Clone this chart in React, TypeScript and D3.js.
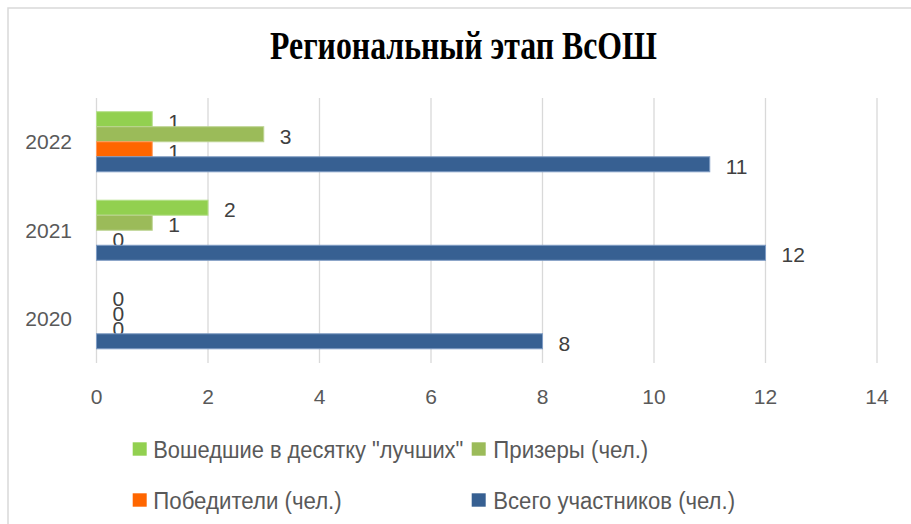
import React from "react";
import * as d3 from "d3";

const categories = ["2022", "2021", "2020"];
const seriesNames = [
  "Вошедшие в десятку \"лучших\"",
  "Призеры (чел.)",
  "Победители (чел.)",
  "Всего участников (чел.)",
];
const seriesTop10 = [1, 2, 0];
const seriesPrize = [3, 1, 0];
const seriesWinners = [1, 0, 0];
const seriesTotal = [11, 12, 8];
const xTicks = [0, 2, 4, 6, 8, 10, 12, 14];
const title = "Региональный этап ВсОШ";

const colors = ["#92D050", "#9BBB59", "#FF6600", "#376092"];
const strokes = ["#b5e08a", "#bcd391", "#ff9a5c", "#7f9cc4"];

const W = 911;
const H = 524;
const FONT = "'Liberation Sans', Arial, sans-serif";

export default function App() {
  const values = [seriesTop10, seriesPrize, seriesWinners, seriesTotal];
  const x = d3.scaleLinear().domain([0, 14]).range([96.5, 877]);
  const y = d3
    .scaleBand<string>()
    .domain(categories)
    .range([97.5, 363])
    .paddingInner(0.321)
    .paddingOuter(0.1605);
  const inner = d3
    .scaleBand<number>()
    .domain(d3.range(seriesNames.length))
    .range([0, y.bandwidth()]);

  const legendLayout = [
    { sx: 132.7, tx: 153.3, cy: 449, len: 310 },
    { sx: 471.7, tx: 493.3, cy: 449, len: 155 },
    { sx: 132.7, tx: 153.3, cy: 500, len: 188.4 },
    { sx: 471.7, tx: 493.3, cy: 500, len: 241.7 },
  ];

  return (
    <svg
      width={W}
      height={H}
      style={{ position: "absolute", left: 0, top: 0, background: "#fff" }}
    >
      <rect x={0} y={0} width={W} height={H} fill="#fff" />
      <rect
        x={8}
        y={8}
        width={W + 20}
        height={H + 20}
        fill="#fff"
        stroke="#d9d9d9"
        strokeWidth={1.5}
      />
      <text
        x={270}
        y={59.3}
        fontFamily="'Liberation Serif', 'Times New Roman', serif"
        fontWeight="bold"
        fontSize={39}
        textLength={387}
        lengthAdjust="spacingAndGlyphs"
        fill="#000"
      >
        {title}
      </text>
      {xTicks.map((t) => (
        <g key={t}>
          <line
            x1={x(t)}
            x2={x(t)}
            y1={98}
            y2={363}
            stroke="#d9d9d9"
            strokeWidth={1.3}
          />
          <text
            x={x(t)}
            y={404}
            textAnchor="middle"
            fontFamily={FONT}
            fontSize={21}
            fill="#595959"
          >
            {t}
          </text>
        </g>
      ))}
      {categories.map((c) => (
        <text
          key={c}
          x={72}
          y={(y(c) as number) + y.bandwidth() / 2 + 7.3}
          textAnchor="end"
          fontFamily={FONT}
          fontSize={21}
          fill="#595959"
        >
          {c}
        </text>
      ))}
      {categories.map((c, ci) =>
        values.map((vals, si) => {
          const v = vals[ci];
          const y0 = (y(c) as number) + (inner(si) as number);
          const h = inner.bandwidth();
          return (
            <g key={c + si}>
              {v > 0 && (
                <rect
                  x={x(0)}
                  y={y0}
                  width={x(v) - x(0)}
                  height={h}
                  fill={colors[si]}
                  stroke={strokes[si]}
                  strokeWidth={1}
                />
              )}
              <text
                x={x(v) + 16}
                y={y0 + h / 2 + 9.5}
                fontFamily={FONT}
                fontSize={21}
                fill="#404040"
              >
                {v}
              </text>
            </g>
          );
        })
      )}
      {seriesNames.map((name, i) => {
        const L = legendLayout[i];
        return (
          <g key={name}>
            <rect
              x={L.sx}
              y={L.cy - 6.7}
              width={14}
              height={13.4}
              fill={colors[i]}
            />
            <text
              x={L.tx}
              y={L.cy + 8.5}
              fontFamily={FONT}
              fontSize={23}
              fill="#595959"
              textLength={L.len}
              lengthAdjust="spacingAndGlyphs"
            >
              {name}
            </text>
          </g>
        );
      })}
    </svg>
  );
}
